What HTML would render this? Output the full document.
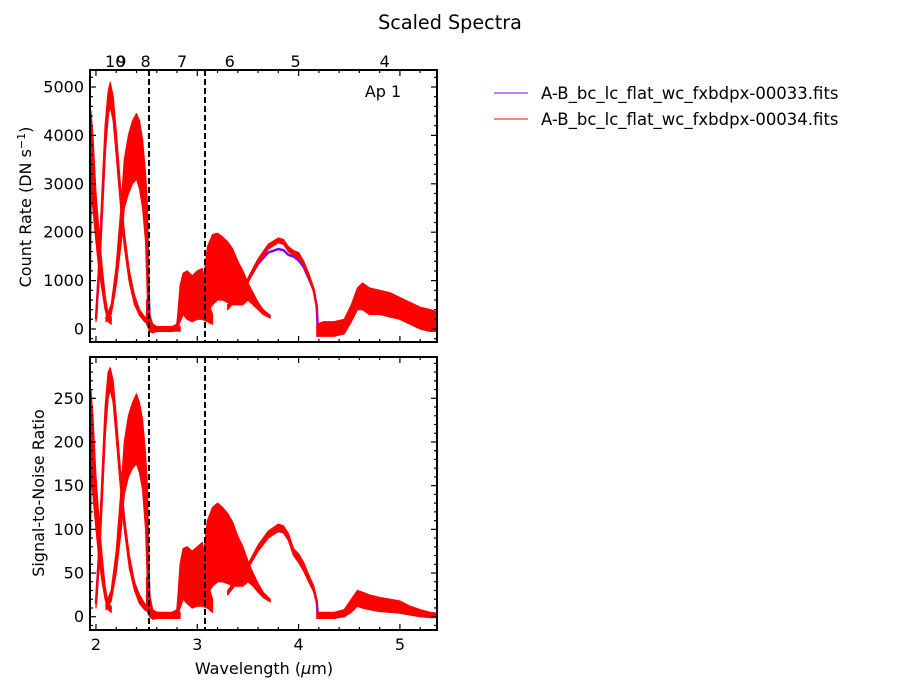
<!DOCTYPE html>
<html><head><meta charset="utf-8">
<style>
html,body{margin:0;padding:0;background:#fff;}
svg{display:block;font-family:"DejaVu Sans","Liberation Sans",sans-serif;}
</style></head>
<body>
<svg id="chart" width="900" height="700" viewBox="0 0 900 700" xmlns="http://www.w3.org/2000/svg">
<defs>
<clipPath id="clipTop"><rect x="90" y="70" width="347" height="272"/></clipPath>
<clipPath id="clipBot"><rect x="90" y="357" width="347" height="273"/></clipPath>
</defs>
<text x="450" y="29" font-size="19.2" text-anchor="middle">Scaled Spectra</text>
<g id="topMarks" clip-path="url(#clipTop)"></g>
<g id="botMarks" clip-path="url(#clipBot)"></g>
<g id="axes"></g>
<text x="383" y="97" font-size="16" text-anchor="middle">Ap 1</text>
<text x="264" y="674" font-size="16" text-anchor="middle">Wavelength (<tspan font-style="italic">μ</tspan>m)</text>
<text transform="translate(31,207) rotate(-90)" font-size="16" text-anchor="middle">Count Rate (DN s<tspan font-size="11" dy="-6">−1</tspan><tspan dy="6">)</tspan></text>
<text transform="translate(44,493) rotate(-90)" font-size="16" text-anchor="middle">Signal-to-Noise Ratio</text>
<g>
<line x1="494" y1="93" x2="528" y2="93" stroke="#7f00ff" stroke-width="1"/>
<text x="541" y="99" font-size="16.5">A-B_bc_lc_flat_wc_fxbdpx-00033.fits</text>
<line x1="494" y1="119" x2="528" y2="119" stroke="#ff0000" stroke-width="1"/>
<text x="541" y="125" font-size="16.5">A-B_bc_lc_flat_wc_fxbdpx-00034.fits</text>
</g>
</svg>
<script>
// ---- data: wavelengths per order (µm) ----
const o11_wl=[1.94,1.95,1.97,2.00,2.03,2.06,2.09,2.12,2.15];
const o10_wl=[2.00,2.03,2.06,2.09,2.12,2.14,2.17,2.20,2.24,2.28,2.33,2.38,2.43,2.48,2.52];
const o9_wl=[2.10,2.15,2.20,2.25,2.28,2.32,2.36,2.40,2.43,2.46,2.49,2.51,2.53];
const o8_wl=[2.50,2.53,2.56,2.60,2.65,2.70,2.75,2.80,2.83];
const o7_wl=[2.80,2.83,2.86,2.90,2.95,3.00,3.05,3.10,3.15];
const o6_wl=[3.05,3.10,3.15,3.20,3.25,3.30,3.35,3.40,3.45,3.50,3.55,3.60,3.65,3.72];
const o5_wl=[3.30,3.40,3.50,3.60,3.70,3.80,3.85,3.90,3.95,4.00,4.05,4.10,4.15,4.18,4.19];
const o4_wl=[4.18,4.25,4.35,4.45,4.52,4.58,4.63,4.70,4.80,4.90,5.00,5.10,5.20,5.30,5.37];
// ---- count rate, file 00034 (red) envelope ----
const o11_crHi=[2500,4500,4000,2800,2000,1300,700,300,250];
const o11_crLo=[500,2800,2500,1800,1200,800,400,150,100];
const o10_crHi=[300,1500,2900,4200,4900,5100,4800,4100,3000,2000,1200,700,400,250,200];
const o10_crLo=[150,1000,2300,3600,4400,4600,4300,3600,2600,1700,950,500,280,150,100];
const o9_crHi=[250,500,1300,2600,3500,4000,4300,4450,4300,3900,3200,2500,300];
const o9_crLo=[150,300,900,1800,2500,2800,3000,3100,2900,2500,1800,500,0];
const o8_crHi=[600,300,100,50,50,50,50,100,50];
const o8_crLo=[100,-50,-80,-50,-50,-50,-50,-40,-50];
const o7_crHi=[100,900,1150,1200,1100,1200,1250,600,300];
const o7_crLo=[0,150,300,200,150,200,200,150,100];
const o6_crHi=[800,1700,1950,1980,1900,1800,1650,1400,1200,950,750,550,400,280];
const o6_crLo=[200,350,500,600,600,550,500,500,500,600,500,400,300,230];
const o5_crHi=[500,750,1050,1450,1750,1880,1850,1700,1620,1580,1400,1150,850,500,-50];
const o5_crLo=[400,650,950,1350,1650,1780,1750,1600,1520,1470,1300,1050,750,400,-80];
const o4_crHi=[100,150,150,200,500,850,950,850,800,750,650,550,450,400,350];
const o4_crLo=[-150,-150,-150,-100,150,400,400,300,300,250,200,100,0,-50,-50];
// ---- count rate, file 00033 (purple) ----
const o11_crP=[1200,3400,3000,2200,1600,1000,550,220,170];
const o10_crP=[200,1200,2500,3800,4500,4730,4500,3800,2800,1850,1050,600,330,200,150];
const o9_crP=[200,400,1000,2100,2900,3300,3500,3600,3500,3100,2500,1500,100];
const o8_crP=[300,100,0,0,0,0,0,30,0];
const o7_crP=[50,500,700,700,600,700,700,350,200];
const o6_crP=[500,1000,1200,1250,1200,1150,1050,900,800,700,600,450,330,250];
const o5_crP=[480,720,1000,1350,1580,1650,1630,1530,1500,1420,1280,1050,800,450,-60];
const o4_crP=[-30,0,0,50,300,600,650,550,500,450,400,300,200,150,150];
// ---- SNR, red envelope ----
const o11_snHi=[150,260,230,160,110,70,35,15,12];
const o11_snLo=[30,160,140,100,65,40,20,8,5];
const o10_snHi=[20,85,165,240,280,285,270,230,170,115,70,40,25,15,12];
const o10_snLo=[10,55,130,205,250,260,245,205,150,100,55,30,15,8,5];
const o9_snHi=[15,30,75,150,200,230,245,255,245,225,185,145,20];
const o9_snLo=[8,18,50,100,140,160,170,175,165,145,100,30,0];
const o8_snHi=[45,25,8,5,5,5,5,8,5];
const o8_snLo=[8,0,-3,-2,-2,-2,-2,-2,-2];
const o7_snHi=[8,60,78,80,75,80,85,40,20];
const o7_snLo=[0,10,20,15,10,12,12,10,5];
const o6_snHi=[60,110,125,130,125,118,108,92,80,64,50,38,28,20];
const o6_snLo=[15,25,35,40,40,38,35,35,35,40,35,28,22,17];
const o5_snHi=[30,45,60,82,98,106,104,95,78,72,62,48,35,20,0];
const o5_snLo=[25,40,55,75,90,98,96,87,70,62,52,40,28,14,-2];
const o4_snHi=[5,5,5,8,20,30,28,25,22,20,18,12,8,5,4];
const o4_snLo=[-2,-2,-2,0,5,12,10,8,6,5,4,2,0,-1,-1];
// ---- SNR, purple ----
const o11_snP=[90,210,185,130,85,55,28,12,8];
const o10_snP=[15,70,145,220,262,270,255,215,160,108,62,35,20,12,8];
const o9_snP=[12,24,62,125,170,195,205,210,200,185,140,90,10];
const o8_snP=[25,10,2,1,1,1,1,3,1];
const o7_snP=[4,35,48,48,42,46,48,25,12];
const o6_snP=[38,68,80,85,82,78,72,64,57,52,43,33,25,18];
const o5_snP=[27,42,57,78,92,98,97,90,73,66,56,44,31,17,-1];
const o4_snP=[1,1,1,4,12,20,18,16,14,12,11,7,4,2,2];
// ---- axis ticks / labels ----
const xTicks=[2,3,4,5];
const crTicks=[0,1000,2000,3000,4000,5000];
const snTicks=[0,50,100,150,200,250];
const orderLabels=["10","9","8","7","6","5","4"];
const orderLabelWl=[2.19,2.25,2.49,2.85,3.32,3.97,4.85];
const orderBreaks=[2.523,3.076];

const NS="http://www.w3.org/2000/svg";
const X0=90,X1=437,WMIN=1.941,WMAX=5.366;
function xs(w){return X0+(w-WMIN)/(WMAX-WMIN)*(X1-X0);}
function yTop(v){return 329-v*0.0484;}
function yBot(v){return 616.7-v*0.8736;}
function mk(tag,attrs,parent){const e=document.createElementNS(NS,tag);for(const k in attrs)e.setAttribute(k,attrs[k]);parent.appendChild(e);return e;}

const orders=[
 ["o11",o11_wl,o11_crHi,o11_crLo,o11_crP,o11_snHi,o11_snLo,o11_snP],
 ["o10",o10_wl,o10_crHi,o10_crLo,o10_crP,o10_snHi,o10_snLo,o10_snP],
 ["o9",o9_wl,o9_crHi,o9_crLo,o9_crP,o9_snHi,o9_snLo,o9_snP],
 ["o8",o8_wl,o8_crHi,o8_crLo,o8_crP,o8_snHi,o8_snLo,o8_snP],
 ["o7",o7_wl,o7_crHi,o7_crLo,o7_crP,o7_snHi,o7_snLo,o7_snP],
 ["o6",o6_wl,o6_crHi,o6_crLo,o6_crP,o6_snHi,o6_snLo,o6_snP],
 ["o5",o5_wl,o5_crHi,o5_crLo,o5_crP,o5_snHi,o5_snLo,o5_snP],
 ["o4",o4_wl,o4_crHi,o4_crLo,o4_crP,o4_snHi,o4_snLo,o4_snP]
];
const topG=document.getElementById('topMarks'),botG=document.getElementById('botMarks');
function drawBand(g,wl,hi,lo,ys,name){
  let pts=[];
  for(let i=0;i<wl.length;i++)pts.push(xs(wl[i]).toFixed(1)+","+ys(hi[i]).toFixed(1));
  for(let i=wl.length-1;i>=0;i--)pts.push(xs(wl[i]).toFixed(1)+","+ys(lo[i]).toFixed(1));
  const p=mk('polygon',{points:pts.join(' '),fill:'#ff0000',stroke:'#ff0000','stroke-width':1.2,'stroke-linejoin':'round'},g);
  
  
}
function drawLine(g,wl,v,ys,name){
  let pts=[];
  for(let i=0;i<wl.length;i++)pts.push(xs(wl[i]).toFixed(1)+","+ys(v[i]).toFixed(1));
  const p=mk('polyline',{points:pts.join(' '),fill:'none',stroke:'#7f00ff','stroke-width':2.5,'stroke-linejoin':'round'},g);
  
  
}
orders.forEach(o=>{
  drawLine(topG,o[1],o[4],yTop,'count-rate-00033-'+o[0]);
  drawLine(botG,o[1],o[7],yBot,'snr-00033-'+o[0]);
});
orders.forEach(o=>{
  drawBand(topG,o[1],o[2],o[3],yTop,'count-rate-00034-'+o[0]);
  drawBand(botG,o[1],o[5],o[6],yBot,'snr-00034-'+o[0]);
});

const ax=document.getElementById('axes');
function panel(yT,yB,ys,ticks,minorStep,vmin,vmax,name){
  const g=mk('g',{},ax);
  
  
  orderBreaks.forEach(w=>{
    const l=mk('line',{x1:xs(w),x2:xs(w),y1:yT,y2:yB,stroke:'#000','stroke-width':2,'stroke-dasharray':'6,3'},g);
    
    
  });
  for(let w=2.0;w<=5.3;w+=0.2){
    const x=xs(w);const maj=Math.abs(w-Math.round(w))<0.01;const L=maj?6:3;
    mk('line',{x1:x,x2:x,y1:yB,y2:yB-L,stroke:'#000','stroke-width':1.2},g);
    mk('line',{x1:x,x2:x,y1:yT,y2:yT+L,stroke:'#000','stroke-width':1.2},g);
  }
  const start=Math.ceil(vmin/minorStep)*minorStep;
  for(let v=start;v<=vmax;v+=minorStep){
    const y=ys(v);const maj=ticks.indexOf(Math.round(v))>=0;const L=maj?6:3;
    mk('line',{x1:X0,x2:X0+L,y1:y,y2:y,stroke:'#000','stroke-width':1.2},g);
    mk('line',{x1:X1,x2:X1-L,y1:y,y2:y,stroke:'#000','stroke-width':1.2},g);
  }
  ticks.forEach(v=>{
    const t=mk('text',{x:84,y:ys(v)+5.5,'font-size':16,'text-anchor':'end'},g);
    t.textContent=v;
    
    
  });
  const r=mk('rect',{x:X0,y:yT,width:X1-X0,height:yB-yT,fill:'none',stroke:'#000','stroke-width':2},g);
  
  
}
panel(70,342,yTop,crTicks,200,-270,5350,'count-rate-axes');
panel(357,630,yBot,snTicks,10,-15,298,'snr-axes');
xTicks.forEach(w=>{
  const t=mk('text',{x:xs(w),y:650,'font-size':16,'text-anchor':'middle'},ax);
  t.textContent=w;
  
  
});
orderLabels.forEach((s,i)=>{
  const t=mk('text',{x:xs(orderLabelWl[i]),y:67,'font-size':16,'text-anchor':'middle'},ax);
  t.textContent=s;
  
  
});
</script>
</body></html>
